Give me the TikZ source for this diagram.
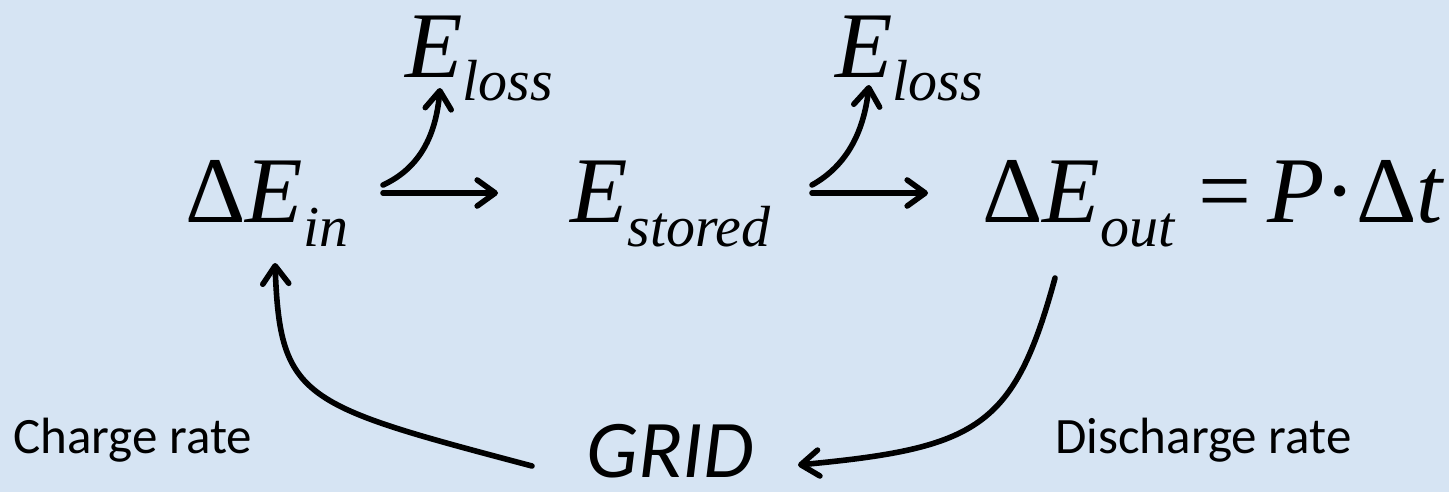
\documentclass[tikz,border=0pt]{standalone}
\usepackage{fontspec}
\setmainfont{Liberation Serif}
\newfontfamily\calibri{Carlito}
\usetikzlibrary{arrows.meta}
% lowered italic subscript for the energy symbols
\newcommand\lowsub[1]{\raisebox{-12pt}{\fontsize{29}{29}\selectfont\itshape #1}}
\definecolor{paper}{RGB}{214,228,243}
\begin{document}
\begin{tikzpicture}[x=0.5pt,y=-0.5pt,
  quantity/.style={anchor=base west,inner sep=0pt,font=\fontsize{47}{47}\selectfont},
  ratetext/.style={anchor=base west,inner sep=0pt,font=\calibri\fontsize{25.5}{25.5}\selectfont},
  gridtext/.style={anchor=base west,inner sep=0pt,font=\calibri\itshape\fontsize{41}{41}\selectfont},
  flow/.style={line width=2.8pt,line cap=round,-{Straight Barb[length=9pt,width=13pt,round]}}]
\fill[paper] (0,0) rectangle (1449,492);
\useasboundingbox (0,0) rectangle (1449,492);

% energy quantities
\node[quantity] (din)   at (185,222) {Δ\textit{E}\lowsub{in}};
\node[quantity] (est)   at (570,222) {\textit{E}\lowsub{stored}};
\node[quantity] (dout)  at (982,222) {Δ\textit{E}\lowsub{out}\hspace{12pt}=\hspace{8pt}\textit{P}·Δ\textit{t}};
\node[quantity] (loss1) at (405,77)  {\textit{E}\lowsub{loss}};
\node[quantity] (loss2) at (835,77)  {\textit{E}\lowsub{loss}};

% grid and rate labels
\node[gridtext] (grid) at (586,477) {GRID};
\node[ratetext] (chg)  at (13,453)   {Charge rate};
\node[ratetext] (dis)  at (1055,453) {Discharge rate};

% connector end points
\coordinate (h1s) at (383,193);  \coordinate (h1e) at (498,193);
\coordinate (h2s) at (812,193);  \coordinate (h2e) at (928,193);
\coordinate (l1s) at (383,185);  \coordinate (l1e) at (440,88);
\coordinate (l2s) at (812,185);  \coordinate (l2e) at (869,85);
\coordinate (cs)  at (532,466);  \coordinate (ce)  at (275,263);
\coordinate (ds)  at (1055,278); \coordinate (de)  at (798,465);

% transfers and losses
\draw[flow] (h1s) -- (h1e);
\draw[flow] (h2s) -- (h2e);
\draw[flow] (l1s) .. controls (420,168) and (436,135) .. (l1e);
\draw[flow] (l2s) .. controls (848,165) and (864,130) .. (l2e);

% charging from and discharging to the grid
\draw[flow] (cs) .. controls (302,405) and (280,400) .. (ce);
\draw[flow] (ds) .. controls (1014,428) and (978,448) .. (de);
\end{tikzpicture}
\end{document}
